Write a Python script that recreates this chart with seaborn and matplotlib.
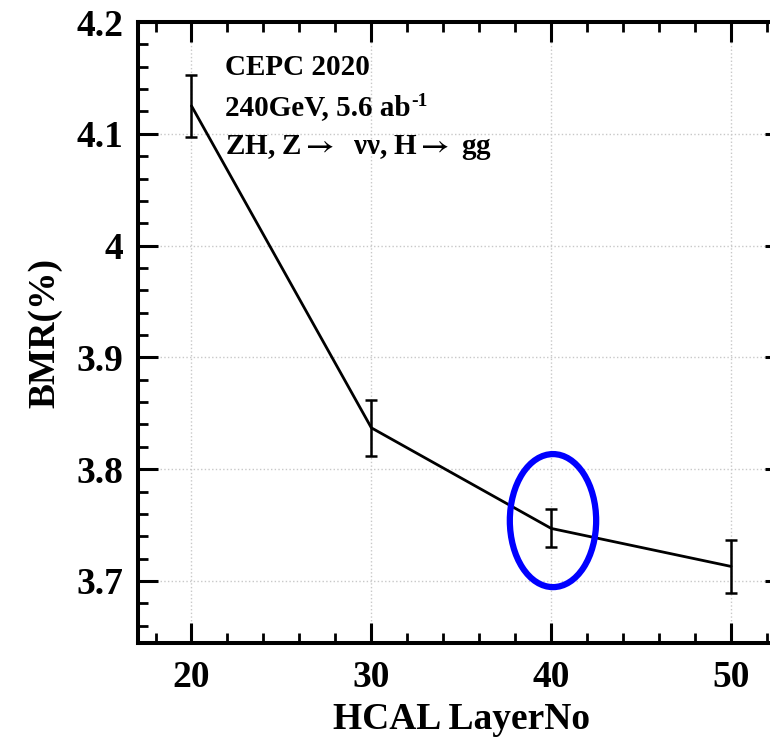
import matplotlib
matplotlib.use('Agg')
import matplotlib.pyplot as plt
from matplotlib.patches import Ellipse
from matplotlib.ticker import MultipleLocator, FuncFormatter
from matplotlib.transforms import offset_copy
import seaborn as sns

# HCAL layer scan, BMR with errors
layers = [20, 30, 40, 50]
bmr = [4.125, 3.837, 3.747, 3.713]
bmr_err = [0.028, 0.025, 0.017, 0.024]

x_ticks = [20, 30, 40, 50]
y_ticks = [3.7, 3.8, 3.9, 4.0, 4.1, 4.2]

info_lines = ['CEPC 2020',
              '240GeV, 5.6 ab',
              r'ZH, Z$\rightarrow$  $\mathregular{\nu\nu}$, H$\rightarrow$ gg']
lumi_exp = '-1'

sns.set_style('ticks')
plt.rcParams['font.family'] = ['Liberation Serif', 'DejaVu Serif']
plt.rcParams['font.weight'] = 'bold'
plt.rcParams['mathtext.fontset'] = 'stix'
plt.rcParams['text.color'] = 'black'
plt.rcParams['axes.labelcolor'] = 'black'
plt.rcParams['xtick.color'] = 'black'
plt.rcParams['ytick.color'] = 'black'

fig = plt.figure(figsize=(7.7, 7.39), dpi=100)
# frame runs past the right edge of the picture, as in the reference
ax = fig.add_axes([0.1786, 0.1299, 0.8409, 0.8403])

sns.lineplot(x=layers, y=bmr, color='black', linewidth=2.0, ax=ax)
ax.errorbar(layers, bmr, yerr=bmr_err, fmt='none', ecolor='black',
            elinewidth=1.8, capsize=4, capthick=1.8)

# highlight the 40-layer point
ax.add_patch(Ellipse((40.1, 3.754), width=4.8, height=0.119, fill=False,
                     edgecolor='#0000ff', linewidth=4.5, zorder=5))

ax.set_xlim(17, 53)
ax.set_ylim(3.6445, 4.2)
ax.set_xticks(x_ticks)
ax.set_yticks(y_ticks)
ax.yaxis.set_major_formatter(FuncFormatter(lambda v, p: f'{v:g}'))
ax.xaxis.set_minor_locator(MultipleLocator(2))
ax.yaxis.set_minor_locator(MultipleLocator(0.02))

ax.grid(True, which='major', linestyle=':', color='#c8c8c8', linewidth=1.0)
ax.set_axisbelow(True)

for s in ax.spines.values():
    s.set_linewidth(2.9)
    s.set_visible(True)
    s.set_color('black')

ax.tick_params(which='both', direction='in', top=True, right=True,
               color='black', labelcolor='black')
ax.tick_params(which='major', length=14.4, width=2.2, labelsize=27)
ax.tick_params(which='minor', length=7, width=2.0)
ax.tick_params(axis='x', which='major', pad=12)
ax.tick_params(axis='y', which='major', pad=10)

ax.set_xlabel('HCAL LayerNo', fontsize=27, fontweight='bold', labelpad=5)
ax.set_ylabel('BMR(%)', fontsize=27, fontweight='bold', labelpad=10)

ys = [0.915, 0.851, 0.787]
texts = []
for txt, yy in zip(info_lines, ys):
    texts.append(ax.text(0.135, yy, txt, transform=ax.transAxes, fontsize=21,
                         fontweight='bold', ha='left', va='baseline'))

# small superscript after "ab"
fig.canvas.draw()
bb = texts[1].get_window_extent()
x_end = ax.transAxes.inverted().transform((bb.x1, bb.y0))[0]
ax.text(x_end, ys[1], lumi_exp, fontsize=14, fontweight='bold',
        ha='left', va='baseline',
        transform=offset_copy(ax.transAxes, fig=fig, x=1, y=9, units='dots'))

fig.savefig('out.png', dpi=100)
plt.close(fig)
